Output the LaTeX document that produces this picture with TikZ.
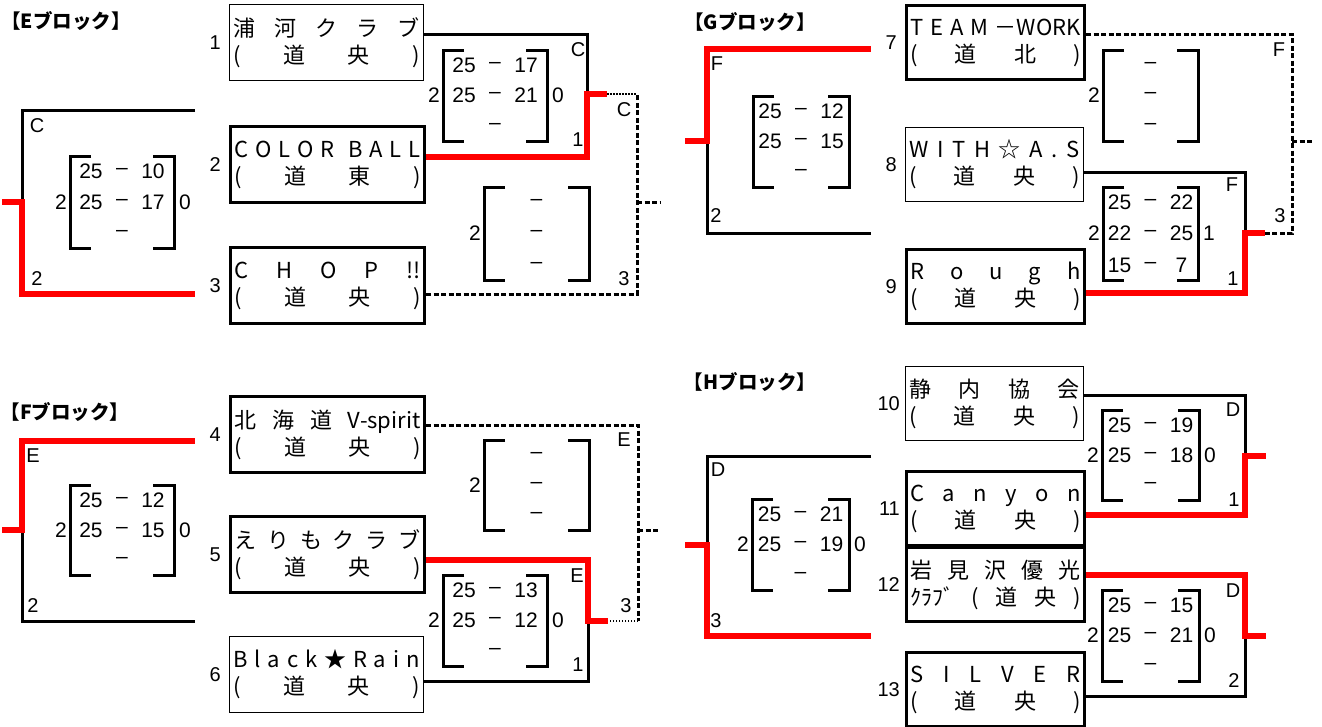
\documentclass[tikz,border=0pt]{standalone}
\usepackage{fontspec}
\setmainfont{Liberation Sans}
\newfontfamily\jp{Noto Sans CJK JP}
\usetikzlibrary{positioning}

\tikzset{
  team/.style={draw, line width=1pt, anchor=north west, inner xsep=4pt, inner ysep=0pt,
    text width=186pt, minimum height=76pt, font=\jp\fontsize{22}{27}\selectfont},
  heavy/.style={team, line width=3pt},
  narrow/.style={text width=170pt, minimum height=74pt},
  title/.style={font=\jp\bfseries\fontsize{19.5}{19.5}\selectfont, inner sep=0pt},
  num/.style={font=\fontsize{20}{20}\selectfont, inner sep=0pt},
  pts/.style={font=\fontsize{21}{21}\selectfont, inner sep=0pt},
  bline/.style={line width=3pt},
  brk/.style={line width=3pt},
  win/.style={red, line width=6pt},
  open/.style={line width=3pt, dash pattern=on 5pt off 2.5pt},
  fine/.style={line width=2pt, dash pattern=on 1.5pt off 1.5pt},
}
% one line of a team name, items spread over the box
\makeatletter
\newcommand\spr[1]{\hbox to\hsize{\@tempswafalse
  \@for\tn@x:=#1\do{\if@tempswa\hfill\fi\@tempswatrue\tn@x}}}
\makeatother
\newcommand\tn[2]{\noindent\spr{#1}\par\noindent\spr{#2}}
% score bracket: left, right, top, bottom, rows, left and right number
\newcommand\scorebox[7]{%
  \draw[brk] (#1+21,#3) -| (#1,#4) -- (#1+21,#4);
  \draw[brk] (#2-21,#3) -| (#2,#4) -- (#2-21,#4);
  \pgfmathsetmacro\xm{(#1+#2)/2}
  \pgfmathsetmacro\ym{(#3+#4)/2}
  \node[pts] (s#1-#3-l) at (#1-9,\ym) {#6};
  \node[pts] (s#1-#3-r) at (#2+11,\ym) {#7};
  \foreach \a/\b [count=\k] in {#5} {
    \pgfmathsetmacro\yy{#3+15+(\k-1)*((#4-#3)/2-15)}
    \node[pts] (s#1-#3-\k a) at (\xm-31,\yy) {\a};
    \node[pts] (s#1-#3-\k m) at (\xm,\yy) {–};
    \node[pts] (s#1-#3-\k b) at (\xm+31,\yy) {\b};
  }
}

\begin{document}
\begin{tikzpicture}[x=1pt,y=-1pt]
\useasboundingbox (0,0) rectangle (1322,726);

% E block
\node[title] (tiE) at (66,21) {【Eブロック】};
\node[team] (t1) at (229,4) {\tn{浦,河,ク,ラ,ブ}{(,道,央,)}};
\node[heavy] (t2) at (229,125) {\tn{C,O,L,O,R,,B,A,L,L}{(,道,東,)}};
\node[heavy] (t3) at (229,246) {\tn{C,H,O,P,!!}{(,道,央,)}};
\foreach \t in {1,2,3} \node[num,left=8pt of t\t] (n\t) {\t};
\coordinate (eA) at (195,110);
\coordinate (eB) at (195,294);
\coordinate (eL) at (22,202);
\coordinate (eW) at (2,202);
\draw[bline] (eA) -| (eL);
\draw[win] (eW) -- (eL) |- (eB);
\scorebox{70}{174}{156}{248}{25/10,25/17,/}{2}{0}
\coordinate (e1) at (587,34);
\coordinate (e2) at (587,157);
\coordinate (e12) at (587,94);
\coordinate (e12r) at (607,94);
\coordinate (e3) at (637,294);
\coordinate (e3t) at (637,94);
\coordinate (eOut) at (660,202);
\draw[bline] (t1.east |- e1) -- (e1) -- (e12);
\draw[open] (t3.east |- e3) -- (e3) -- (e3t);
\draw[open] (e3 |- eOut) -- (eOut);
\draw[fine] (e12r) -- (e3t);
\draw[win] (t2.east |- e2) -- (e2) -- (e12) -- (e12r);
\scorebox{443}{547}{50}{141}{25/17,25/21,/}{2}{0}
\scorebox{484}{589}{187}{280}{/,/,/}{2}{}
\foreach \t/\x/\y [count=\k] in {C/37/126, 2/37/279, C/578/50, 1/578/140, C/624/110, 3/624/279}
  \node[num] (eLab\k) at (\x,\y) {\t};

% G block
\node[title] (tiG) at (750,22) {【Gブロック】};
\node[heavy,narrow] (t7) at (905,4) {\tn{T,E,A,M,－WORK}{(,道,北,)}};
\node[team,narrow] (t8) at (905,127) {\tn{W,I,T,H,☆,A,.,S}{(,道,央,)}};
\node[heavy,narrow] (t9) at (905,248) {\tn{R,o,u,g,h}{(,道,央,)}};
\foreach \t in {7,8,9} \node[num,left=8pt of t\t] (n\t) {\t};
\coordinate (gA) at (871,49);
\coordinate (gB) at (871,233);
\coordinate (gL) at (707,141);
\coordinate (gW) at (685,141);
\draw[bline] (gL) |- (gB);
\draw[win] (gW) -- (gL) |- (gA);
\scorebox{753}{849}{96}{187}{25/12,25/15,/}{}{}
\coordinate (g7) at (1292,34);
\coordinate (g3) at (1292,233);
\coordinate (gOut) at (1314,141);
\coordinate (g8) at (1245,172);
\coordinate (g9) at (1245,293);
\coordinate (g89) at (1245,233);
\coordinate (g89r) at (1265,233);
\draw[open] (t7.east |- g7) -- (g7) -- (g3) -- (g89r);
\draw[open] (g7 |- gOut) -- (gOut);
\draw[bline] (t8.east |- g8) -- (g8) -- (g89);
\draw[win] (t9.east |- g9) -- (g9) -- (g89) -- (g89r);
\scorebox{1103}{1198}{50}{141}{/,/,/}{2}{}
\scorebox{1103}{1198}{187}{280}{25/22,22/25,15/7}{2}{1}
\foreach \t/\x/\y [count=\k] in {F/717/64, 2/716/216, F/1279/50, 3/1280/216, F/1232/185, 1/1233/279}
  \node[num] (gLab\k) at (\x,\y) {\t};

% F block
\node[title] (tiF) at (65,412) {【Fブロック】};
\node[heavy] (t4) at (229,395) {\tn{北,海,道,V-spirit}{(,道,央,)}};
\node[heavy] (t5) at (229,515) {\tn{え,り,も,ク,ラ,ブ}{(,道,央,)}};
\node[team] (t6) at (229,636) {\tn{B,l,a,c,k,★,R,a,i,n}{(,道,央,)}};
\foreach \t in {4,5,6} \node[num,left=8pt of t\t] (n\t) {\t};
\coordinate (fA) at (195,441);
\coordinate (fB) at (195,621);
\coordinate (fL) at (22,530);
\coordinate (fW) at (2,530);
\draw[bline] (fL) |- (fB);
\draw[win] (fW) -- (fL) |- (fA);
\scorebox{70}{174}{485}{575}{25/12,25/15,/}{2}{0}
\coordinate (f4) at (638,425);
\coordinate (f3) at (638,621);
\coordinate (fOut) at (660,530);
\coordinate (f5) at (588,560);
\coordinate (f6) at (588,681);
\coordinate (f56) at (588,621);
\coordinate (f56r) at (608,621);
\draw[open] (t4.east |- f4) -- (f4) -- (f3);
\draw[fine] (f3) -- (f56r);
\draw[open] (f4 |- fOut) -- (fOut);
\draw[bline] (t6.east |- f6) -- (f6) -- (f56);
\draw[win] (t5.east |- f5) -- (f5) -- (f56) -- (f56r);
\scorebox{484}{589}{440}{530}{/,/,/}{2}{}
\scorebox{443}{547}{575}{666}{25/13,25/12,/}{2}{0}
\foreach \t/\x/\y [count=\k] in {E/33/456, 2/33/606, E/624/440, 3/626/606, E/577/576, 1/578/665}
  \node[num] (fLab\k) at (\x,\y) {\t};

% H block
\node[title] (tiH) at (750,382) {【Hブロック】};
\node[team,narrow] (t10) at (905,366) {\tn{静,内,協,会}{(,道,央,)}};
\node[heavy,narrow] (t11) at (905,470) {\tn{C,a,n,y,o,n}{(,道,央,)}};
\node[heavy,narrow] (t12) at (905,546) {\tn{岩,見,沢,優,光}{ｸﾗﾌﾞ,(,道,央,)}};
\node[heavy,narrow] (t13) at (905,651) {\tn{S,I,L,V,E,R}{(,道,央,)}};
\foreach \t in {10,11,12,13} \node[num,left=5pt of t\t] (n\t) {\t};
\coordinate (hA) at (871,456);
\coordinate (hB) at (871,636);
\coordinate (hL) at (707,545);
\coordinate (hW) at (685,545);
\draw[bline] (hA) -| (hL);
\draw[win] (hW) -- (hL) |- (hB);
\scorebox{752}{849}{499}{590}{25/21,25/19,/}{2}{0}
\coordinate (h10) at (1245,395);
\coordinate (h11) at (1245,515);
\coordinate (hU) at (1245,456);
\coordinate (hUr) at (1266,456);
\coordinate (h12) at (1245,575);
\coordinate (h13) at (1245,696);
\coordinate (hD) at (1245,636);
\coordinate (hDr) at (1266,636);
\draw[bline] (t10.east |- h10) -- (h10) -- (hU);
\draw[win] (t11.east |- h11) -- (h11) -- (hU) -- (hUr);
\draw[bline] (t13.east |- h13) -- (h13) -- (hD);
\draw[win] (t12.east |- h12) -- (h12) -- (hD) -- (hDr);
\scorebox{1102}{1199}{410}{500}{25/19,25/18,/}{2}{0}
\scorebox{1102}{1199}{590}{681}{25/15,25/21,/}{2}{0}
\foreach \t/\x/\y [count=\k] in {D/718/470, 3/716/621, D/1233/410, 1/1234/500, D/1233/591, 2/1234/681}
  \node[num] (hLab\k) at (\x,\y) {\t};
\end{tikzpicture}
\end{document}
